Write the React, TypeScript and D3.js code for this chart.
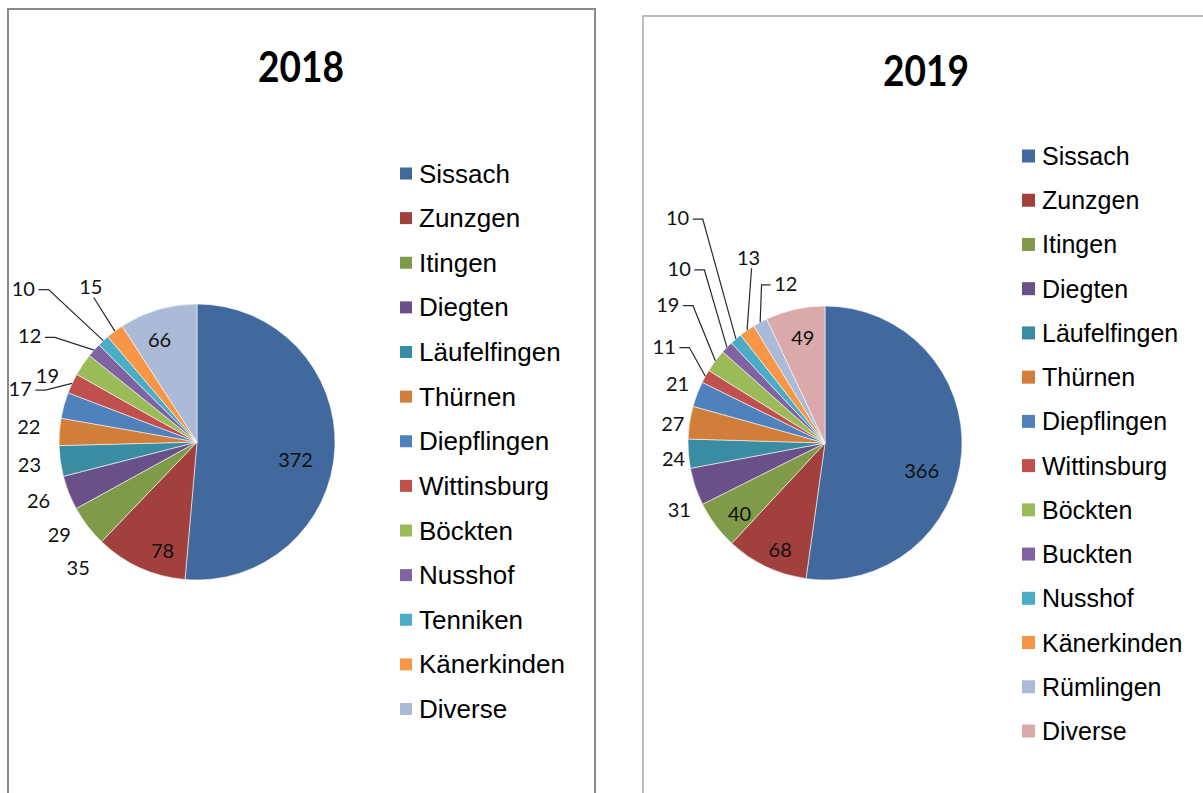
import React from 'react'
import * as d3 from 'd3'

// Excel style palette, slices take colours in series order
const palette = [
  '#41699d', '#a2403d', '#7f9a48', '#6a5088', '#3a8ca2', '#d17e3a', '#4f81bd',
  '#c0504d', '#9bbb59', '#8064a2', '#4bacc6', '#f79646', '#aabad7', '#d9aaa9'
]

const places2018 = [
  'Sissach', 'Zunzgen', 'Itingen', 'Diegten', 'Läufelfingen', 'Thürnen', 'Diepflingen',
  'Wittinsburg', 'Böckten', 'Nusshof', 'Tenniken', 'Känerkinden', 'Diverse'
]
const values2018 = [372, 78, 35, 29, 26, 23, 22, 17, 19, 12, 10, 15, 66]

const places2019 = [
  'Sissach', 'Zunzgen', 'Itingen', 'Diegten', 'Läufelfingen', 'Thürnen', 'Diepflingen',
  'Wittinsburg', 'Böckten', 'Buckten', 'Nusshof', 'Känerkinden', 'Rümlingen', 'Diverse'
]
const values2019 = [366, 68, 40, 31, 24, 27, 21, 11, 19, 10, 10, 13, 12, 49]

// label placement: 'in' inside slice, 'out' outside, 'h'/'v'/'l' outside with a leader line
const labelMode2018 = ['in', 'in', 'out', 'out', 'out', 'out', 'out', 'h', 'out', 'h', 'h', 'v', 'in']
const labelShift2018 = [
  [-9, 12], [10, 10], [8, 28], [11, 33], [0, 36], [-8, 34], [-14, 27],
  [-32, 14], [-17, 23], [-48, 0], [-65, -37], [-11, -27], [-7, 0]
]
const labelMode2019 = ['in', 'in', 'in', 'out', 'out', 'out', 'out', 'h', 'h', 'h', 'h', 'v', 'l', 'in']
const labelShift2019 = [
  [-10, 20], [1, 9], [0, 6], [5, 15], [7, 3], [5, 4], [1, -3],
  [-22, -20], [-30, -44], [-32, -64], [-44, -105], [14, -55], [36, -20], [1, -2]
]

type ChartProps = {
  title: string
  names: string[]
  values: number[]
  modes: string[]
  shifts: number[][]
  box: { x: number; y: number; w: number; stroke: string; sw: number }
  titleX: number
  titleY: number
  cx: number
  cy: number
  r: number
  legend: { x: number; y0: number; y1: number; size: number; font: number }
}

const labelFont = 'Lato, "Open Sans", sans-serif'

function PieChart(props: ChartProps) {
  const { title, names, values, modes, shifts, box, titleX, titleY, cx, cy, r, legend } = props

  const pie = d3.pie<number>().sort(null).value(d => d)
  const arcs = pie(values)
  const arc = d3.arc<d3.PieArcDatum<number>>().innerRadius(0).outerRadius(r)
  const inArc = d3.arc<d3.PieArcDatum<number>>().innerRadius(r * 0.78).outerRadius(r * 0.78)
  const outArc = d3.arc<d3.PieArcDatum<number>>().innerRadius(r + 22).outerRadius(r + 22)
  const edgeArc = d3.arc<d3.PieArcDatum<number>>().innerRadius(r).outerRadius(r)

  const rows = d3.scalePoint<string>().domain(names).range([legend.y0, legend.y1])

  return (
    <g>
      <rect x={box.x} y={box.y} width={box.w} height={900} fill="none" stroke={box.stroke} strokeWidth={box.sw} />
      <text x={titleX} y={titleY} textAnchor="middle" fontFamily={labelFont} fontWeight="bold"
        fontSize={42} textLength={86} lengthAdjust="spacingAndGlyphs" fill="#000">{title}</text>

      <g transform={`translate(${cx},${cy})`}>
        {arcs.map((a, i) => (
          <path key={names[i]} d={arc(a) || ''} fill={palette[i]} stroke="#ffffff" strokeOpacity={0.7} strokeWidth={0.8} />
        ))}
        {arcs.map((a, i) => {
          const mode = modes[i]
          const base = mode === 'in' ? inArc.centroid(a) : outArc.centroid(a)
          const x = base[0] + shifts[i][0]
          const y = base[1] + shifts[i][1]
          const text = String(values[i])
          const half = text.length * 5.6
          const edge = edgeArc.centroid(a)
          let leader = ''
          if (mode === 'h') {
            const sx = x + half + 4
            leader = `M${sx},${y + 2}L${sx + 10},${y + 2}L${edge[0]},${edge[1]}`
          } else if (mode === 'l') {
            const sx = x - half - 4
            leader = `M${sx},${y + 2}L${sx - 9},${y + 2}L${edge[0]},${edge[1]}`
          } else if (mode === 'v') {
            leader = `M${x + 3},${y + 11}L${edge[0]},${edge[1]}`
          }
          return (
            <g key={'l' + names[i]}>
              {leader && <path d={leader} fill="none" stroke="#2a2a2a" strokeWidth={1.2} />}
              <text x={x} y={y} textAnchor="middle" dominantBaseline="central"
                fontFamily={labelFont} fontSize={20} fill="#111">{text}</text>
            </g>
          )
        })}
      </g>

      {names.map((n, i) => {
        const y = rows(n) as number
        return (
          <g key={'lg' + n}>
            <rect x={legend.x} y={y - legend.size / 2} width={legend.size} height={legend.size} fill={palette[i]} />
            <text x={legend.x + legend.size + 7} y={y} dominantBaseline="central"
              fontFamily='"Liberation Sans", Arial, sans-serif' fontSize={legend.font} fill="#000">{n}</text>
          </g>
        )
      })}
    </g>
  )
}

export default function App() {
  return (
    <svg width={1203} height={793} style={{ position: 'absolute', left: 0, top: 0, background: '#fff' }}>
      <rect x={0} y={0} width={1203} height={793} fill="#fff" />
      <PieChart
        title="2018" names={places2018} values={values2018}
        modes={labelMode2018} shifts={labelShift2018}
        box={{ x: 8, y: 9, w: 587, stroke: '#8a8a8a', sw: 2 }}
        titleX={301} titleY={82}
        cx={197} cy={442} r={138}
        legend={{ x: 400, y0: 173.5, y1: 709, size: 12, font: 26 }}
      />
      <PieChart
        title="2019" names={places2019} values={values2019}
        modes={labelMode2019} shifts={labelShift2019}
        box={{ x: 643, y: 16, w: 620, stroke: '#a8a8a8', sw: 1.5 }}
        titleX={926} titleY={86}
        cx={825} cy={443} r={137}
        legend={{ x: 1022, y0: 156, y1: 731, size: 13, font: 25 }}
      />
    </svg>
  )
}
